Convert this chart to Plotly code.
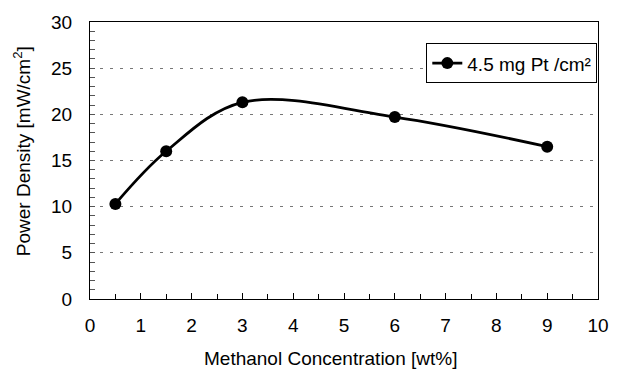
import plotly.graph_objects as go

# Methanol concentration (wt%) vs. power density (mW/cm2)
concentration = [0.5, 1.5, 3, 6, 9]
power_density = [10.3, 16.0, 21.3, 19.7, 16.5]
series_name = "4.5 mg Pt /cm²"
x_title = "Methanol Concentration [wt%]"
y_title = "Power Density [mW/cm<sup>2</sup>]"

x_ticks = list(range(0, 11))
y_ticks = list(range(0, 31, 5))

font_family = "Liberation Sans, Arial, Helvetica, sans-serif"

fig = go.Figure()
fig.add_trace(go.Scatter(
    x=concentration,
    y=power_density,
    name=series_name,
    mode="lines+markers",
    line=dict(color="black", width=2.8, shape="spline", smoothing=1.0),
    marker=dict(color="black", size=12),
    showlegend=True,
))

# axis titles placed as paper-referenced annotations
fig.add_annotation(
    text=x_title, xref="paper", yref="paper",
    x=0.473, y=-0.216, xanchor="center", yanchor="middle",
    showarrow=False, font=dict(size=19),
)
fig.add_annotation(
    text=y_title, xref="paper", yref="paper",
    x=-0.135, y=0.535, xanchor="center", yanchor="middle",
    textangle=-90, showarrow=False, font=dict(size=19),
)

fig.update_layout(
    width=621,
    height=371,
    margin=dict(l=90, r=13, t=17, b=72),
    paper_bgcolor="white",
    plot_bgcolor="white",
    font=dict(family=font_family, size=19, color="black"),
    showlegend=True,
    legend=dict(
        x=0.662, y=0.851, xanchor="left", yanchor="middle",
        bgcolor="white", bordercolor="black", borderwidth=1,
        font=dict(size=19),
        itemwidth=30,
        tracegroupgap=0,
    ),
    xaxis=dict(
        range=[0, 10],
        tickvals=x_ticks,
        ticktext=[str(v) for v in x_ticks],
        ticks="inside", ticklen=6, tickcolor="black", tickwidth=1,
        minor=dict(dtick=0.5, ticks="inside", ticklen=5, tickcolor="black"),
        showline=True, linecolor="black", linewidth=1, mirror=True,
        showgrid=False, zeroline=False,
        ticklabelstandoff=9,
        tickfont=dict(size=19),
    ),
    yaxis=dict(
        range=[0, 30],
        tickvals=y_ticks,
        ticktext=[str(v) for v in y_ticks],
        ticks="inside", ticklen=5, tickcolor="#555", tickwidth=1,
        minor=dict(dtick=1, ticks="inside", ticklen=5, tickcolor="#555", showgrid=False),
        showline=True, linecolor="black", linewidth=1, mirror=True,
        showgrid=True, gridcolor="#777", gridwidth=1, griddash="3px,7px",
        zeroline=False,
        ticklabelstandoff=13,
        tickfont=dict(size=19),
    ),
)

fig.write_html("out.html")
